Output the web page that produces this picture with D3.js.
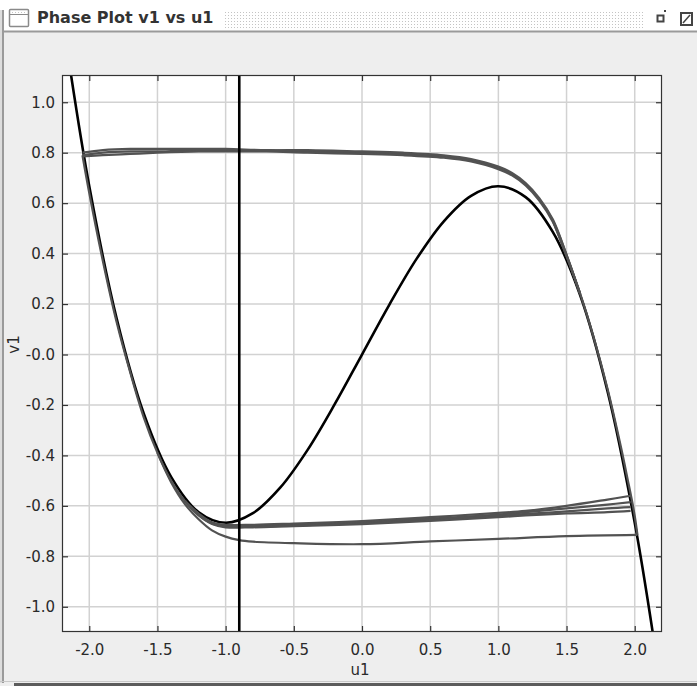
<!DOCTYPE html>
<html>
<head>
<meta charset="utf-8">
<script src="https://cdn.jsdelivr.net/npm/d3@7"></script>
<style>
  body { margin: 0; background: #eeeeee; }
  svg { display: block; font-family: "DejaVu Sans", sans-serif; }
</style>
</head>
<body>
<svg id="chart" width="697" height="686"></svg>
<script>
// ---- data ----
const xTickValues = [-2.0, -1.5, -1.0, -0.5, 0.0, 0.5, 1.0, 1.5, 2.0];
const xTickLabels = ["-2.0", "-1.5", "-1.0", "-0.5", "0.0", "0.5", "1.0", "1.5", "2.0"];
const yTickValues = [-1.0, -0.8, -0.6, -0.4, -0.2, 0.0, 0.2, 0.4, 0.6, 0.8, 1.0];
const yTickLabels = ["-1.0", "-0.8", "-0.6", "-0.4", "-0.2", "-0.0", "0.2", "0.4", "0.6", "0.8", "1.0"];

// black cubic nullcline
const nullU = [-2.14, -2.0, -1.8, -1.6, -1.4, -1.2, -1.0, -0.8, -0.6, -0.4, -0.2, 0, 0.2, 0.4, 0.6, 0.8, 1.0, 1.2, 1.4, 1.6, 1.8, 2.0, 2.14];
const nullV = [1.13, 0.667, 0.144, -0.235, -0.485, -0.624, -0.667, -0.629, -0.528, -0.379, -0.197, 0, 0.197, 0.379, 0.528, 0.629, 0.667, 0.624, 0.485, 0.235, -0.144, -0.667, -1.13];

// black vertical line
const stimU = -0.9;

// gray trajectory pieces
const topU = [-2.05, -1.9, -1.7, -1.5, -1.2, -1.0, -0.7, -0.4, 0, 0.3, 0.6, 0.8, 1.0, 1.1, 1.2, 1.3, 1.4, 1.5, 1.6];
const topVa = [0.79, 0.80, 0.805, 0.805, 0.81, 0.81, 0.81, 0.805, 0.80, 0.795, 0.785, 0.77, 0.74, 0.715, 0.675, 0.615, 0.53, 0.395, 0.24];
const topVb = [0.785, 0.79, 0.795, 0.80, 0.805, 0.805, 0.805, 0.80, 0.795, 0.79, 0.78, 0.765, 0.735, 0.71, 0.67, 0.61, 0.525, 0.39, 0.24];
const topVc = [0.80, 0.81, 0.815, 0.815, 0.815, 0.815, 0.81, 0.81, 0.805, 0.80, 0.79, 0.775, 0.745, 0.72, 0.68, 0.62, 0.535, 0.395, 0.24];

const rightU = [1.4, 1.5, 1.6, 1.7, 1.8, 1.9, 1.95, 1.98, 2.0, 2.02];
const rightV = [0.53, 0.39, 0.24, 0.065, -0.135, -0.37, -0.5, -0.58, -0.64, -0.715];

const bottomU = [1.97, 1.8, 1.5, 1.2, 1.0, 0.5, 0, -0.5, -0.8, -1.0, -1.1, -1.2, -1.3];
const bottomVa = [-0.56, -0.575, -0.60, -0.62, -0.628, -0.645, -0.66, -0.67, -0.675, -0.675, -0.665, -0.63, -0.58];
const bottomVb = [-0.585, -0.595, -0.61, -0.625, -0.635, -0.65, -0.665, -0.675, -0.678, -0.68, -0.668, -0.632, -0.58];
const bottomVc = [-0.605, -0.61, -0.622, -0.632, -0.64, -0.655, -0.668, -0.678, -0.682, -0.682, -0.67, -0.635, -0.58];
const bottomVd = [-0.62, -0.625, -0.63, -0.638, -0.645, -0.66, -0.672, -0.68, -0.685, -0.685, -0.672, -0.637, -0.58];

const lowU = [2.02, 1.5, 1.0, 0.5, 0, -0.5, -0.8, -0.9, -1.0, -1.1, -1.2, -1.3, -1.4, -1.5];
const lowV = [-0.715, -0.72, -0.731, -0.741, -0.752, -0.748, -0.742, -0.736, -0.722, -0.697, -0.652, -0.592, -0.506, -0.39];

const leftU = [-1.2, -1.3, -1.4, -1.5, -1.6, -1.7, -1.8, -1.9, -2.0, -2.05];
const leftV = [-0.63, -0.58, -0.5, -0.39, -0.25, -0.07, 0.13, 0.37, 0.64, 0.79];

const grayPieces = [
	[topU, topVa], [topU, topVb], [topU, topVc],
	[rightU, rightV],
	[bottomU, bottomVa], [bottomU, bottomVb], [bottomU, bottomVc], [bottomU, bottomVd],
	[lowU, lowV],
	[leftU, leftV]
];

const zip = (us, vs) => us.map((u, i) => [u, vs[i]]);

// ---- layout ----
const plot = { left: 62, right: 662, top: 75, bottom: 632 };

const svg = d3.select("#chart");

// window chrome
const defs = svg.append("defs");
const pat = defs.append("pattern")
	.attr("id", "dots")
	.attr("width", 3).attr("height", 3)
	.attr("patternUnits", "userSpaceOnUse");
pat.append("rect").attr("width", 3).attr("height", 3).attr("fill", "#ffffff");
pat.append("rect").attr("width", 1).attr("height", 1).attr("fill", "#c4c4c4");

svg.append("rect")
	.attr("x", 0).attr("y", 0).attr("width", 697).attr("height", 31)
	.attr("fill", "#ffffff");
svg.append("line")
	.attr("x1", 3).attr("x2", 697).attr("y1", 31.5).attr("y2", 31.5)
	.attr("stroke", "#9a9a9a").attr("stroke-width", 2);
svg.append("rect")
	.attr("x", 0).attr("y", 10).attr("width", 2).attr("height", 673)
	.attr("fill", "#dddddd");
svg.append("rect")
	.attr("x", 2).attr("y", 10).attr("width", 2).attr("height", 673)
	.attr("fill", "#9a9a9a");
svg.append("rect")
	.attr("x", 14).attr("y", 683).attr("width", 683).attr("height", 3)
	.attr("fill", "#5c5c5c");
svg.append("line")
	.attr("x1", 0).attr("x2", 697).attr("y1", 681.5).attr("y2", 681.5)
	.attr("stroke", "#c8c8c8");

// title icon
svg.append("rect")
	.attr("x", 9.5).attr("y", 9.5).attr("width", 19).attr("height", 17)
	.attr("fill", "#ffffff").attr("stroke", "#8a8a8a").attr("stroke-width", 1.5).attr("rx", 1);
svg.append("rect")
	.attr("x", 11).attr("y", 11).attr("width", 16).attr("height", 3)
	.attr("fill", "url(#dots)");
svg.append("line")
	.attr("x1", 10).attr("x2", 28).attr("y1", 14.5).attr("y2", 14.5)
	.attr("stroke", "#8a8a8a");

svg.append("text")
	.attr("x", 37).attr("y", 23)
	.attr("font-size", 16).attr("font-weight", "bold")
	.attr("fill", "#333333")
	.text("Phase Plot v1 vs u1");

svg.append("rect")
	.attr("x", 224).attr("y", 10).attr("width", 420).attr("height", 18)
	.attr("fill", "url(#dots)");

// right window buttons
svg.append("rect")
	.attr("x", 657.5).attr("y", 15.5).attr("width", 6).attr("height", 6)
	.attr("fill", "#ffffff").attr("stroke", "#444444").attr("stroke-width", 2);
svg.append("rect")
	.attr("x", 664).attr("y", 10).attr("width", 2).attr("height", 2)
	.attr("fill", "#444444");
svg.append("rect")
	.attr("x", 681).attr("y", 13).attr("width", 11).attr("height", 12)
	.attr("fill", "#ffffff").attr("stroke", "#444444").attr("stroke-width", 2);
svg.append("line")
	.attr("x1", 683).attr("y1", 23).attr("x2", 690).attr("y2", 15)
	.attr("stroke", "#444444").attr("stroke-width", 1.5);

// ---- scales ----
const x = d3.scaleLinear().domain([-2.2, 2.2]).range([plot.left, plot.right]);
const y = d3.scaleLinear().domain([-1.1, 1.108]).range([plot.bottom, plot.top]);

defs.append("clipPath").attr("id", "plotClip")
	.append("rect")
	.attr("x", plot.left).attr("y", plot.top)
	.attr("width", plot.right - plot.left).attr("height", plot.bottom - plot.top);

// plot background
svg.append("rect")
	.attr("x", plot.left).attr("y", plot.top)
	.attr("width", plot.right - plot.left).attr("height", plot.bottom - plot.top)
	.attr("fill", "#ffffff");

// grid
const grid = svg.append("g").attr("class", "grid");
grid.selectAll(".gx")
	.data(xTickValues)
	.join("line")
	.attr("class", "gx")
	.attr("x1", d => x(d)).attr("x2", d => x(d))
	.attr("y1", plot.top).attr("y2", plot.bottom)
	.attr("stroke", "#d2d2d2").attr("stroke-width", 1.5);
grid.selectAll(".gy")
	.data(yTickValues)
	.join("line")
	.attr("class", "gy")
	.attr("x1", plot.left).attr("x2", plot.right)
	.attr("y1", d => y(d)).attr("y2", d => y(d))
	.attr("stroke", "#d2d2d2").attr("stroke-width", 1.5);

// axes with inward ticks on all four sides
const fmtX = d => xTickLabels[xTickValues.indexOf(d)];
const fmtY = d => yTickLabels[yTickValues.indexOf(d)];

const xAxisG = svg.append("g")
	.attr("transform", `translate(0,${plot.bottom})`)
	.call(d3.axisBottom(x).tickValues(xTickValues).tickFormat(fmtX).tickSizeInner(-6).tickSizeOuter(0).tickPadding(12));
const xTopG = svg.append("g")
	.attr("transform", `translate(0,${plot.top})`)
	.call(d3.axisTop(x).tickValues(xTickValues).tickFormat("").tickSizeInner(-6).tickSizeOuter(0));
const yAxisG = svg.append("g")
	.attr("transform", `translate(${plot.left},0)`)
	.call(d3.axisLeft(y).tickValues(yTickValues).tickFormat(fmtY).tickSizeInner(-6).tickSizeOuter(0).tickPadding(7));
const yRightG = svg.append("g")
	.attr("transform", `translate(${plot.right},0)`)
	.call(d3.axisRight(y).tickValues(yTickValues).tickFormat("").tickSizeInner(-6).tickSizeOuter(0));

[xAxisG, xTopG, yAxisG, yRightG].forEach(g => {
	g.select(".domain").remove();
	g.selectAll(".tick line").attr("stroke", "#333333").attr("stroke-width", 1.2);
	g.selectAll("text")
		.attr("font-family", "DejaVu Sans, sans-serif")
		.attr("font-size", 15)
		.attr("fill", "#2a2a2a");
});

// lines
const lineGen = d3.line()
	.x(d => x(d[0]))
	.y(d => y(d[1]))
	.curve(d3.curveCatmullRom.alpha(0.5));

const marks = svg.append("g").attr("clip-path", "url(#plotClip)");

marks.append("path")
	.datum(zip(nullU, nullV))
	.attr("d", lineGen)
	.attr("fill", "none")
	.attr("stroke", "#000000")
	.attr("stroke-width", 2.6);

marks.selectAll(".traj")
	.data(grayPieces)
	.join("path")
	.attr("class", "traj")
	.attr("d", d => lineGen(zip(d[0], d[1])))
	.attr("fill", "none")
	.attr("stroke", "#525252")
	.attr("stroke-width", 2.2)
	.attr("stroke-linejoin", "round");

marks.append("line")
	.attr("x1", x(stimU)).attr("x2", x(stimU))
	.attr("y1", plot.top).attr("y2", plot.bottom)
	.attr("stroke", "#000000")
	.attr("stroke-width", 2.6);

// plot frame
svg.append("rect")
	.attr("x", plot.left + 0.5).attr("y", plot.top + 0.5)
	.attr("width", plot.right - plot.left - 1).attr("height", plot.bottom - plot.top - 1)
	.attr("fill", "none")
	.attr("stroke", "#333333")
	.attr("stroke-width", 1.2);

// axis titles
svg.append("text")
	.attr("x", (plot.left + plot.right) / 2 - 2).attr("y", 675)
	.attr("text-anchor", "middle")
	.attr("font-size", 15)
	.attr("fill", "#2a2a2a")
	.text("u1");

svg.append("text")
	.attr("transform", `translate(19,${y(0) - 10}) rotate(-90)`)
	.attr("text-anchor", "middle")
	.attr("font-size", 15)
	.attr("fill", "#2a2a2a")
	.text("v1");
</script>
</body>
</html>
